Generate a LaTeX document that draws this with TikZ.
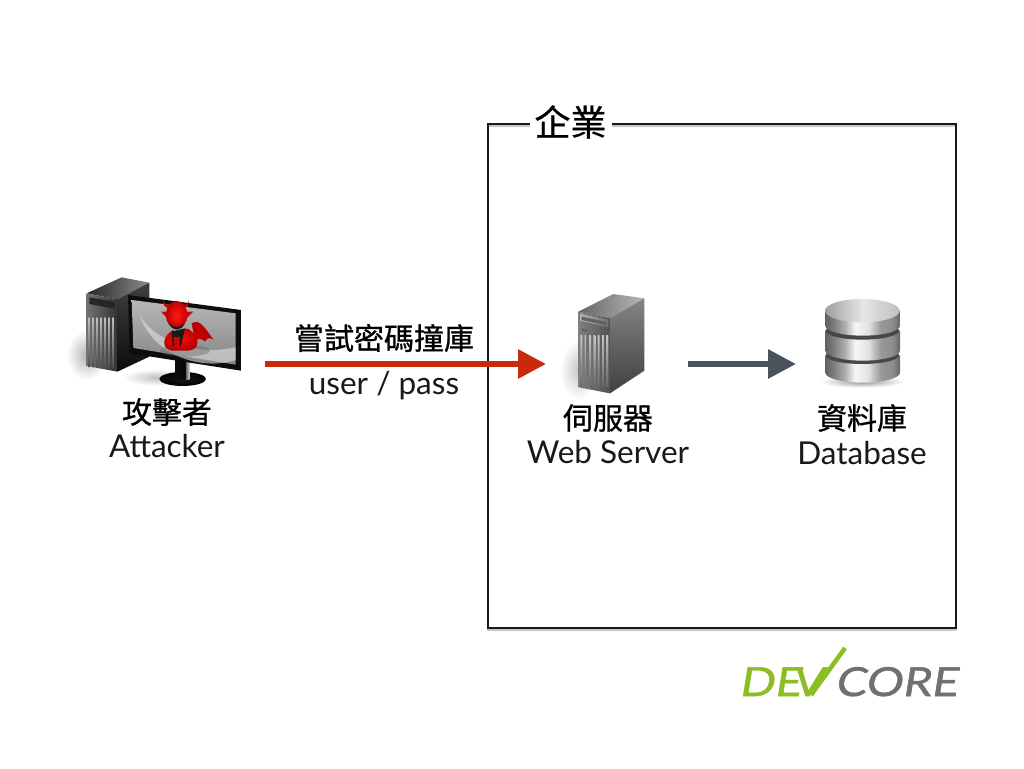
\documentclass[tikz,border=0pt]{standalone}
\usepackage{fontspec}
\setmainfont{Lato}
\newfontfamily\cjk[FakeBold=0.8]{Noto Sans CJK TC}
\newfontfamily\logofontg[FakeStretch=1.15,FakeSlant=0.16,FakeBold=1.2]{Lato}
\usetikzlibrary{arrows.meta}
\definecolor{arrowred}{HTML}{C92A0C}
\definecolor{arrowgrey}{HTML}{4A525C}
\definecolor{logogreen}{HTML}{8CBE22}
\definecolor{logogrey}{HTML}{707070}
\pgfdeclarehorizontalshading{metalband}{100bp}{
 color(0bp)=(black!62); color(25bp)=(black!62); color(31bp)=(black!50); color(38bp)=(black!32); color(45bp)=(black!3); color(54bp)=(black!12); color(62bp)=(black!40); color(70bp)=(black!45); color(75bp)=(black!60); color(100bp)=(black!60)}
\tikzset{
 every node/.style={inner sep=0pt,outer sep=0pt},
 cjklabel/.style={font=\cjk\fontsize{30}{34}\selectfont,text=black},
 latlabel/.style={font=\fontsize{31.5}{36}\selectfont,text=black!90},
 iconbox/.style={minimum height=100pt},
 flow/.style={line width=6pt,-{Triangle[length=28pt,width=28pt]}},
 frame/.style={draw=black!90,line width=2.5pt},
 zoomview/.style={x=0.3333pt,y=-0.3333pt},
 logotext/.style={anchor=base west,font=\logofontg\fontsize{40}{40}\selectfont},
}
\begin{document}
\begin{tikzpicture}[x=1pt,y=-1pt]
\useasboundingbox (0,0) rectangle (1024,768);
\fill[white] (0,0) rectangle (1024,768);
% enterprise frame
\draw[black!22,line width=2.5pt] (488,125.5) rectangle (956,629.5);
\draw[frame] (488,124) rectangle (956,628);
\node[fill=white,minimum width=82pt,minimum height=38pt,font=\cjk\fontsize{36}{40}\selectfont,text=black] (corp) at (570.5,122) {企業};
% invisible anchors for connectors
\node[iconbox,minimum width=195pt] (attacker) at (167.5,364) {};
\node[iconbox,minimum width=142pt] (server) at (617,364) {};
\node[iconbox,minimum width=130pt] (database) at (861,364) {};
\draw[flow,arrowred] (attacker.east) -- (server.west);
\draw[flow,arrowgrey] (server.east) -- (database.west);
% labels
\node[cjklabel] (l1) at (384,338) {嘗試密碼撞庫};
\node[latlabel] (l2) at (384,386) {user / pass};
\node[cjklabel] (a1) at (167,412) {攻擊者};
\node[latlabel] (a2) at (167,446) {Attacker};
\node[cjklabel] (s1) at (608,418) {伺服器};
\node[latlabel] (s2) at (608,452) {Web Server};
\node[cjklabel] (d1) at (862,418) {資料庫};
\node[latlabel] (d2) at (862,453) {Database};
% attacker icon
\begin{scope}[shift={(60,260)},zoomview]
 \shade[inner color=black!30,outer color=white] (80,285) ellipse (60 and 75);
 \shade[inner color=black!25,outer color=white] (290,352) ellipse (100 and 25);
 \path[left color=black!85,right color=black!45] (80,100) -- (185,52) -- (268,68) -- (172,118) -- cycle;
 \path[left color=black!55,right color=black!80] (80,100) -- (172,118) -- (172,335) -- (80,318) -- cycle;
 \path[bottom color=black!95,top color=black!75] (172,118) -- (268,68) -- (268,290) -- (172,335) -- cycle;
 \fill[black!85] (88,112) -- (165,126) -- (165,146) -- (88,132) -- cycle;
 \fill[black!60] (90,152) circle (3);
 \foreach \i in {0,1,2,3,4,5,6} {
   \path[top color=black!25,bottom color=black!70] ({85+\i*12},172) -- ({90+\i*12},173) -- ({90+\i*12},322) -- ({85+\i*12},321) -- cycle;
 }
 % monitor stand
 \shade[inner color=black!90,outer color=black!100] (368,357) ellipse (70 and 21);
 \path[left color=black!95,right color=black] (346,300) -- (390,305) -- (390,358) -- (346,358) -- cycle;
 \path[left color=black!60,right color=black!20] (378,305) -- (388,305) -- (388,358) -- (378,358) -- cycle;
 % monitor
 \fill[black!95] (204,105) -- (543,150) -- (543,332) -- (209,280) -- cycle;
 \path[top color=black!28,bottom color=black!48] (215,120) -- (527,160) -- (527,314) -- (220,264) -- cycle;
 \fill[black!12,opacity=.6] (240,170) .. controls (290,240) and (400,290) .. (527,262) -- (527,300) .. controls (440,330) and (290,300) .. (240,170) -- cycle;
 % devil
 \fill[black!60,opacity=.4] (375,272) ellipse (75 and 18);
 \fill[red!75!black] (395,190) .. controls (420,175) and (435,205) .. (460,238) .. controls (445,232) and (440,235) .. (436,245) .. controls (425,235) and (415,235) .. (405,240) -- cycle;
 \shade[inner color=red!95!white,outer color=red!70!black] (364,240) .. controls (345,200) and (385,200) .. (395,215) .. controls (420,230) and (420,270) .. (385,272) -- (335,272) .. controls (300,265) and (310,225) .. (340,210) -- cycle;
 \fill[black!90] (335,215) -- (375,205) -- (363,258) -- (338,258) -- cycle;
 \fill[red!85!black] (345,262) -- (340,232) -- (360,230) -- (358,258) -- cycle;
 \fill[red!85!black] (303,155) -- (320,155) -- (322,175) -- cycle;
 \fill[red!85!black] (382,155) -- (400,155) -- (380,175) -- cycle;
 \fill[red!85!black] (310,120) .. controls (308,135) and (315,145) .. (330,145) -- (325,135) .. controls (318,135) and (312,130) .. (310,120) -- cycle;
 \fill[red!85!black] (386,120) .. controls (388,135) and (381,145) .. (366,145) -- (372,135) .. controls (380,135) and (385,130) .. (386,120) -- cycle;
 \shade[inner color=red!90!white,outer color=red!75!black] (350,165) ellipse (32 and 42);
 \fill[black!90] (328,190) .. controls (340,205) and (360,205) .. (372,190) .. controls (368,215) and (335,215) .. (328,190) -- cycle;
\end{scope}
% server icon
\begin{scope}[shift={(560,280)},zoomview]
 \shade[inner color=black!22,outer color=white] (55,270) ellipse (55 and 90);
 \path[left color=black!60,right color=black!28] (55,95) -- (160,42) -- (253,55) -- (150,115) -- cycle;
 \path[left color=black!50,right color=black!68] (55,95) -- (150,115) -- (150,340) -- (55,322) -- cycle;
 \path[bottom color=black!75,top color=black!48] (150,115) -- (253,55) -- (253,272) -- (150,340) -- cycle;
 \path[left color=black!30,right color=black!55] (60,101) -- (145,119) -- (145,142) -- (60,122) -- cycle;
 \fill[black!62] (65,110) -- (140,126) -- (140,136) -- (65,120) -- cycle;
 \fill[green!60!black] (68,149) circle (4);
 \fill[red!70!black] (77,151) circle (2.5);
 \foreach \i in {0,1,2,3,4,5,6} {
   \path[top color=black!22,bottom color=black!60] ({61+\i*13},165) -- ({67+\i*13},166) -- ({67+\i*13},322) -- ({61+\i*13},320) -- cycle;
 }
\end{scope}
% database icon
\begin{scope}[shift={(810,290)},zoomview]
 \shade[inner color=black!40,outer color=white] (157,275) ellipse (128 and 18);
 % bottom disc
 \shade[shading=metalband] (46,196) -- (46,248) arc[start angle=180,end angle=0,x radius=112,y radius=30] -- (270,196) -- cycle;
 \fill[black!72] (157,196) ellipse (110 and 26);
 % middle disc
 \shade[shading=metalband] (46,122) -- (46,182) arc[start angle=180,end angle=0,x radius=112,y radius=30] -- (270,122) -- cycle;
 \fill[black!72] (157,122) ellipse (110 and 27);
 % top disc
 \shade[shading=metalband] (46,62) -- (46,107) arc[start angle=180,end angle=0,x radius=112,y radius=30] -- (270,62) -- cycle;
 \shade[left color=black!38,right color=black!25,middle color=black!10] (157,62) ellipse (112 and 35);
\end{scope}
% logo
\node[logotext,text=logogreen] (logoa) at (739,696) {DE};
\node[logotext,text=logogreen] (logov) at (792,696) {V};
\coordinate (logotip) at (845,648);
\coordinate (logotail) at (811,695);
\draw[logogreen,line width=4.5pt] (logotail) -- (logotip);
\node[logotext,text=logogrey] (logob) at (835,696) {CORE};
\end{tikzpicture}
\end{document}
